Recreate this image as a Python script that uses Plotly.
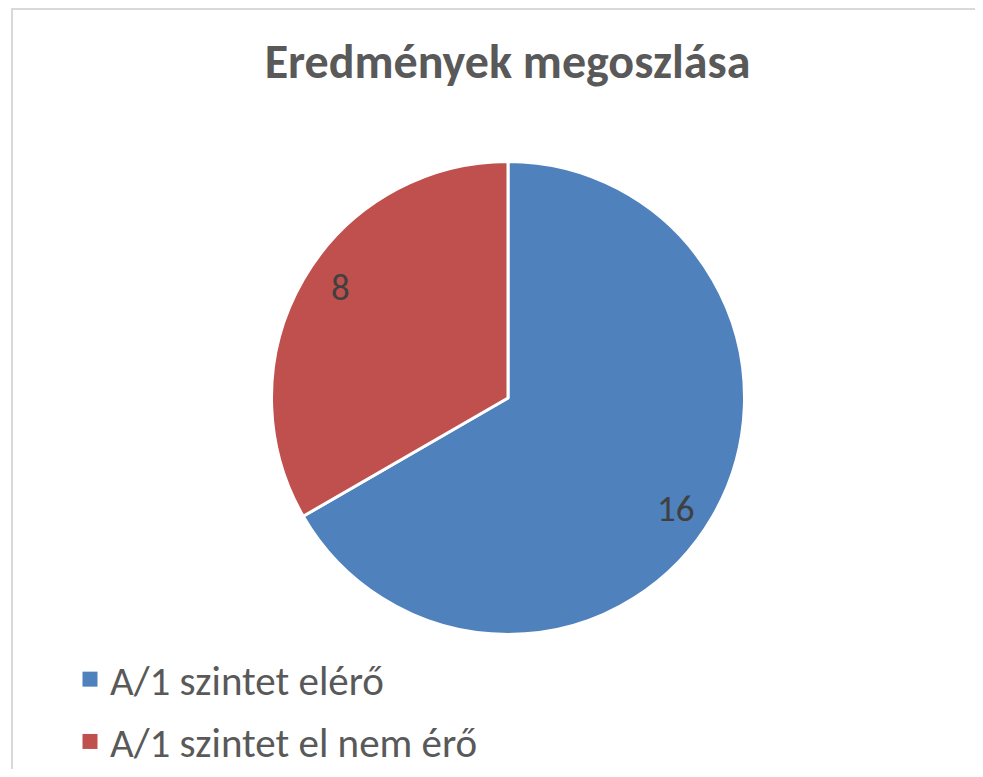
import math
import plotly.graph_objects as go

# ---- data ----
categories = ["A/1 szintet elérő", "A/1 szintet el nem érő"]
values = [16, 8]
colors = ["#4F81BD", "#C0504D"]
title_text = "Eredmények megoszlása"

# figure size (page body has an 8px margin)
W, H = 975, 761
FONT = "Calibri, Carlito, Lato, sans-serif"

# pie placement (figure pixels)
cx, cy, r = 500, 390, 236.5
dom_x = [(cx - r) / W, (cx + r) / W]
dom_y = [(H - (cy + r)) / H, (H - (cy - r)) / H]

fig = go.Figure()
fig.add_trace(go.Pie(
    labels=categories,
    values=values,
    sort=False,
    direction="clockwise",
    rotation=0,
    marker=dict(colors=colors, line=dict(color="white", width=3)),
    textinfo="none",
    hoverinfo="label+value",
    showlegend=False,
    domain=dict(x=dom_x, y=dom_y),
))

# legend entries (separate groups so the spacing can be set)
for i, (name, col) in enumerate(zip(categories, colors)):
    fig.add_trace(go.Scatter(
        x=[None], y=[None], mode="markers", name=name,
        marker=dict(symbol="square", size=15, color=col),
        legendgroup=f"g{i}", showlegend=True,
    ))

# data labels near the outer part of each slice
total = sum(values)
cum = 0
annotations = []
LABEL_R = 0.85
LABEL_SHIFT = math.radians(3.5)
for v in values:
    mid = (cum + v / 2) / total * 2 * math.pi + LABEL_SHIFT
    cum += v
    px = cx + LABEL_R * r * math.sin(mid)
    py = cy - LABEL_R * r * math.cos(mid)
    annotations.append(dict(
        x=px / W, y=1 - py / H, xref="paper", yref="paper",
        text=str(v), showarrow=False,
        font=dict(family=FONT, size=37, color="#404040"),
        xanchor="center", yanchor="middle",
    ))

fig.update_layout(
    width=W, height=H,
    margin=dict(l=0, r=0, t=0, b=0, autoexpand=False),
    paper_bgcolor="white", plot_bgcolor="white",
    title=dict(
        text=f"<b>{title_text}</b>",
        x=499.5 / W, xanchor="center",
        y=1 - 53 / H, yanchor="middle",
        xref="container", yref="container",
        font=dict(family=FONT, size=48, color="#595959"),
    ),
    xaxis=dict(visible=False), yaxis=dict(visible=False),
    legend=dict(
        xref="container", yref="container",
        x=62 / W, y=1 - 638 / H, xanchor="left", yanchor="top",
        font=dict(family=FONT, size=41, color="#595959"),
        tracegroupgap=6, bgcolor="rgba(0,0,0,0)",
        maxheight=400,
    ),
    annotations=annotations,
    shapes=[dict(
        type="rect", xref="paper", yref="paper",
        x0=4 / W, x1=1.02, y0=-0.05, y1=1 - 1 / H,
        line=dict(color="#D9D9D9", width=2),
    )],
)

fig.write_html("out.html")
